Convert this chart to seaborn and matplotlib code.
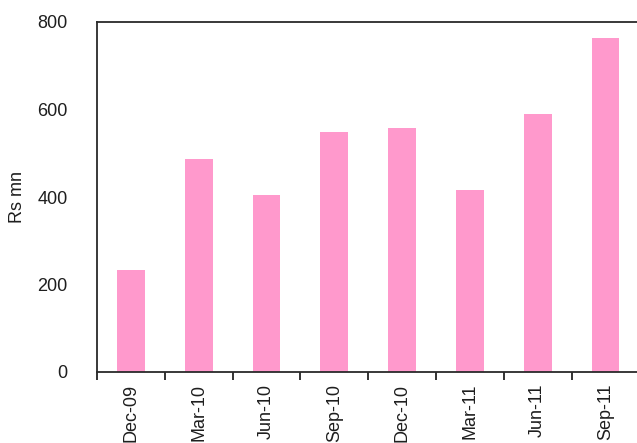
import matplotlib
matplotlib.use("Agg")
import matplotlib.pyplot as plt
from matplotlib.ticker import FixedLocator
import seaborn as sns
import pandas as pd

quarters = ["Dec-09", "Mar-10", "Jun-10", "Sep-10", "Dec-10", "Mar-11", "Jun-11", "Sep-11"]
values = [233, 487, 405, 549, 558, 416, 590, 763]
y_ticks = [0, 200, 400, 600, 800]
y_label = "Rs mn"

sns.set_theme(style="white")
plt.rcParams["font.family"] = ["Liberation Sans", "DejaVu Sans"]
text_color = "#1e1e1e"

df = pd.DataFrame({"quarter": quarters, "value": values})

fig = plt.figure(figsize=(6.37, 4.43), dpi=100)
ax = fig.add_axes([97 / 637, 1 - 372 / 443, 542.4 / 637, 350 / 443])

sns.barplot(data=df, x="quarter", y="value", color="#FF99CC", saturation=1,
            width=0.41, ax=ax, edgecolor="none")

ax.set_xlim(-0.5, len(quarters) - 0.5)
ax.set_ylim(0, 800)
ax.set_yticks(y_ticks)
ax.set_yticklabels([str(t) for t in y_ticks], fontsize=13, color=text_color)
ax.tick_params(axis="y", length=0, pad=21)

ax.set_xticks(range(len(quarters)))
ax.set_xticklabels(quarters, rotation=90, fontsize=13, color=text_color)
ax.tick_params(axis="x", which="major", length=0, pad=8.5)
ax.xaxis.set_minor_locator(FixedLocator([i + 0.5 for i in range(-1, len(quarters))]))
ax.tick_params(axis="x", which="minor", bottom=True, length=6, width=1.3,
               color="#222222", direction="out")

ax.set_xlabel("")
ax.set_ylabel(y_label, fontsize=13, color=text_color)
ax.yaxis.set_label_coords(-0.131, 0.5)

for side in ["left", "top", "bottom", "right"]:
    ax.spines[side].set_visible(True)
    ax.spines[side].set_color("#2a2a2a")
    ax.spines[side].set_linewidth(1.3)

fig.savefig("out.png", dpi=100)
